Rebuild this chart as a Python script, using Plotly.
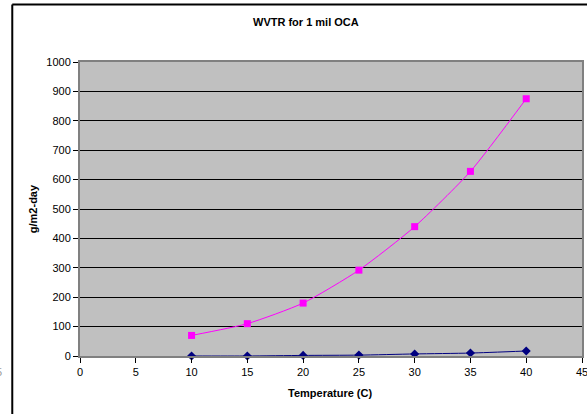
import plotly.graph_objects as go

temperature = [10, 15, 20, 25, 30, 35, 40]
wvtr_pink = [70, 110, 180, 292, 440, 628, 875]
wvtr_blue = [0, 0, 2, 3, 7, 10, 17]

W, H = 587, 414
L, R, T, B = 80, 3, 62, 58
pw, ph = W - L - R, H - T - B

def px(x):
    return (x - L) / pw

def py(y):
    return (H - B - y) / ph

fig = go.Figure()
fig.add_trace(go.Scatter(
    x=temperature, y=wvtr_blue, mode="lines+markers",
    line=dict(color="#000080", width=1, shape="spline", smoothing=0.6),
    marker=dict(symbol="diamond", size=7, color="#000080"),
    showlegend=False, cliponaxis=False))
fig.add_trace(go.Scatter(
    x=temperature, y=wvtr_pink, mode="lines+markers",
    line=dict(color="#FF00FF", width=1, shape="spline", smoothing=0.6),
    marker=dict(symbol="square", size=7, color="#FF00FF"),
    showlegend=False, cliponaxis=False))

font = "Liberation Sans, Arial, sans-serif"
fs = 11
ann = dict(showarrow=False, xanchor="center", yanchor="middle")
fig.update_layout(
    width=W, height=H,
    margin=dict(l=L, r=R, t=T, b=B),
    paper_bgcolor="white", plot_bgcolor="#C0C0C0",
    font=dict(family=font, size=fs, color="black"),
    xaxis=dict(range=[0, 45], tickvals=[0, 5, 10, 15, 20, 25, 30, 35, 40, 45],
               ticktext=["0", "5", "10", "15", "20", "25", "30", "35", "40", ""],
               showgrid=False, zeroline=False,
               showline=True, linecolor="#808080", linewidth=2, mirror=True,
               ticks="outside", ticklen=5, tickcolor="black",
               tickfont=dict(size=fs)),
    yaxis=dict(range=[0, 1000], dtick=100, tick0=0, showgrid=True,
               gridcolor="black", gridwidth=1, zeroline=False,
               showline=True, linecolor="#808080", linewidth=2, mirror=True,
               ticks="outside", ticklen=5, tickcolor="black",
               tickfont=dict(size=fs)),
    annotations=[
        dict(text="<b>WVTR for 1 mil OCA</b>", xref="paper", yref="paper",
             x=px(307), y=py(22), font=dict(size=fs), **ann),
        dict(text="<b>Temperature (C)</b>", xref="paper", yref="paper",
             x=px(331), y=py(393), font=dict(size=fs), **ann),
        dict(text="<b>g/m2-day</b>", xref="paper", yref="paper",
             x=px(33), y=py(209), textangle=-90,
             font=dict(size=fs), **ann),
        dict(text="45", xref="x", yref="paper",
             x=45, y=py(372), font=dict(size=fs), **ann),
        dict(text="5", xref="paper", yref="paper",
             x=px(-1), y=py(372),
             font=dict(size=fs, color="#999999"), **ann),
    ],
    shapes=[
        dict(type="line", xref="paper", yref="paper",
             x0=px(12), x1=px(W + 5), y0=py(4.5), y1=py(4.5),
             line=dict(color="black", width=2)),
        dict(type="line", xref="paper", yref="paper",
             x0=px(12), x1=px(12), y0=py(4.5), y1=py(H + 5),
             line=dict(color="black", width=2)),
    ],
)

fig.write_html("out.html")
